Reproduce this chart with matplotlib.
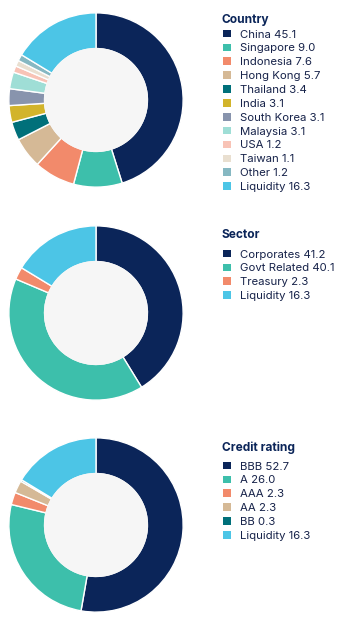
import matplotlib.pyplot as plt
from matplotlib.patches import Patch

# data
country_labels = ['China', 'Singapore', 'Indonesia', 'Hong Kong', 'Thailand', 'India',
                  'South Korea', 'Malaysia', 'USA', 'Taiwan', 'Other', 'Liquidity']
country_values = [45.1, 9.0, 7.6, 5.7, 3.4, 3.1, 3.1, 3.1, 1.2, 1.1, 1.2, 16.3]
country_colors = ['#0b2559', '#3dbfab', '#f28a6b', '#d5b996', '#00707a', '#d2b42b',
                  '#8894ad', '#9fded6', '#f8c3b6', '#e9dfd0', '#86b8c2', '#4cc5e6']

sector_labels = ['Corporates', 'Govt Related', 'Treasury', 'Liquidity']
sector_values = [41.2, 40.1, 2.3, 16.3]
sector_colors = ['#0b2559', '#3dbfab', '#f28a6b', '#4cc5e6']

rating_labels = ['BBB', 'A', 'AAA', 'AA', 'BB', 'Liquidity']
rating_values = [52.7, 26.0, 2.3, 2.3, 0.3, 16.3]
rating_colors = ['#0b2559', '#3dbfab', '#f28a6b', '#d5b996', '#00707a', '#4cc5e6']

W, H = 354, 627
fig = plt.figure(figsize=(W / 100, H / 100), dpi=100)
fig.patch.set_facecolor('white')
plt.rcParams['font.family'] = ['Inter', 'DejaVu Sans']

text_color = '#17234a'
title_color = '#0b2559'


def donut(cy, title, labels, values, colors, ytitle, yleg):
    r = 88
    ax = fig.add_axes([(96 - r) / W, 1 - (cy + r) / H, 2 * r / W, 2 * r / H])
    ax.pie(values, colors=colors, startangle=90, counterclock=False, radius=1,
           wedgeprops=dict(width=0.41, edgecolor='white', linewidth=1.0))
    ax.add_patch(plt.Circle((0, 0), 0.59, color='#f6f6f6', zorder=5))
    ax.set_xlim(-1.01, 1.01)
    ax.set_ylim(-1.01, 1.01)
    ax.set_aspect('equal')
    ax.axis('off')

    # title
    fig.text(222 / W, 1 - ytitle / H, title, fontsize=8.6, fontweight='bold',
             color=title_color, va='center', ha='left')

    handles = [Patch(facecolor=c, edgecolor='none') for c in colors]
    texts = ['%s %.1f' % (l, v) for l, v in zip(labels, values)]
    leg = fig.legend(handles, texts, loc='upper left',
                     bbox_to_anchor=(223 / W, 1 - yleg / H), bbox_transform=fig.transFigure,
                     frameon=False, fontsize=8.2, borderpad=0, borderaxespad=0,
                     handlelength=0.66, handleheight=0.66, handletextpad=0.83,
                     labelspacing=0.34)
    for t in leg.get_texts():
        t.set_color(text_color)


donut(100, 'Country', country_labels, country_values, country_colors, 20.5, 29.5)
donut(313, 'Sector', sector_labels, sector_values, sector_colors, 235.5, 249.5)
donut(525, 'Credit rating', rating_labels, rating_values, rating_colors, 448, 461.5)

fig.savefig('out.png', dpi=100, facecolor='white')
